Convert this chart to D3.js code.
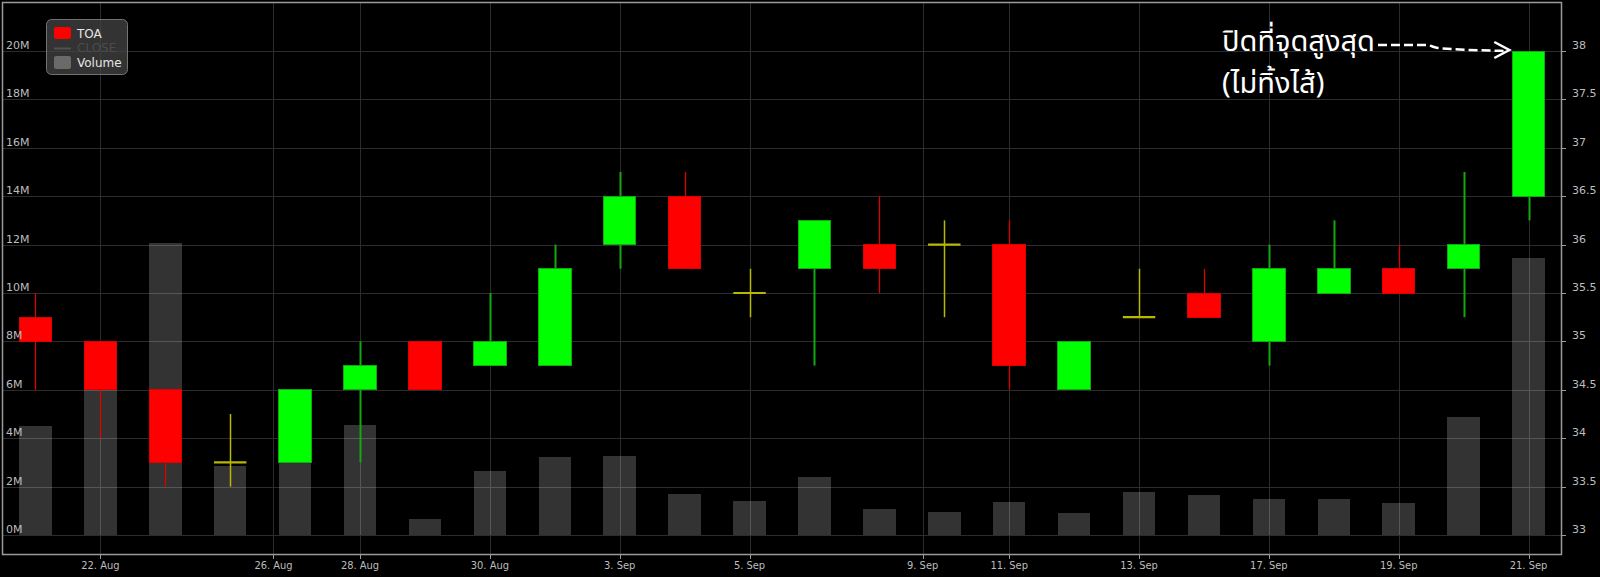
<!DOCTYPE html>
<html>
<head>
<meta charset="utf-8">
<script src="https://cdn.jsdelivr.net/npm/d3@7"></script>
<style>
  html, body { margin: 0; padding: 0; background: #000; }
  svg { display: block; }
</style>
</head>
<body>
<svg id="chart" width="1600" height="577"></svg>
<script>
// ---------------- DATA ----------------
const dates = ["2018-08-21","2018-08-22","2018-08-23","2018-08-24","2018-08-27","2018-08-28","2018-08-29","2018-08-30","2018-08-31",
               "2018-09-03","2018-09-04","2018-09-05","2018-09-06","2018-09-07","2018-09-10","2018-09-11","2018-09-12","2018-09-13",
               "2018-09-14","2018-09-17","2018-09-18","2018-09-19","2018-09-20","2018-09-21"];
const openVals  = [35.25,35.0,34.5,33.75,33.75,34.5,35.0,34.75,34.75,36.0,36.5,35.5,35.75,36.0,36.0,36.0,34.5,35.25,35.5,35.0,35.5,35.75,35.75,36.5];
const highVals  = [35.5,35.0,34.5,34.25,34.5,35.0,35.0,35.5,36.0,36.75,36.75,35.75,36.25,36.5,36.25,36.25,35.0,35.75,35.75,36.0,36.25,36.0,36.75,38.0];
const lowVals   = [34.5,34.0,33.5,33.5,33.75,33.75,34.5,34.75,34.75,35.75,35.75,35.25,34.75,35.5,35.25,34.5,34.5,35.25,35.25,34.75,35.5,35.5,35.25,36.25];
const closeVals = [35.0,34.5,33.75,33.75,34.5,34.75,34.5,35.0,35.75,36.5,35.75,35.5,36.25,35.75,36.0,34.75,35.0,35.25,35.25,35.75,35.75,35.5,36.0,38.0];
const volumeVals = [4.5e6,6.3e6,12.05e6,2.87e6,3.5e6,4.53e6,0.66e6,2.64e6,3.22e6,3.26e6,1.68e6,1.42e6,2.38e6,1.07e6,0.95e6,1.38e6,0.91e6,1.79e6,1.67e6,1.48e6,1.48e6,1.34e6,4.86e6,11.43e6];
const xTickDates = ["2018-08-22","2018-08-26","2018-08-28","2018-08-30","2018-09-03","2018-09-05","2018-09-09","2018-09-11","2018-09-13","2018-09-17","2018-09-19","2018-09-21"];
const priceTicks = [33,33.5,34,34.5,35,35.5,36,36.5,37,37.5,38];
const volumeTicks = [0,2e6,4e6,6e6,8e6,10e6,12e6,14e6,16e6,18e6,20e6];
const seriesNames = ["TOA","CLOSE","Volume"];
const annotationLines = ["ปิดที่จุดสูงสุด","(ไม่ทิ้งไส้)"];

// ---------------- LAYOUT ----------------
const W = 1600, H = 577;
const plot = {left: 3, right: 1561, top: 3, bottom: 554};
const C = {
  up: "#00ff00", upLine: "#12a812",
  down: "#ff0000", downLine: "#dd0000",
  doji: "#b8b800",
  grid: "#2c2c2c", border: "#9a9a9a", label: "#bdbdbd",
  volume: "rgba(255,255,255,0.2)"
};

const svg = d3.select("#chart");
svg.append("rect").attr("width", W).attr("height", H).attr("fill", "#000");

const parse = d3.utcParse("%Y-%m-%d");
const idx = d3.range(dates.length);
const x = d3.scaleBand().domain(idx).range([plot.left, plot.right]).paddingInner(0.5).paddingOuter(0.25);
const bw = x.bandwidth();
const xc = i => x(i) + bw / 2;
// ordinal time axis: map dates to interpolated index centers
const tScale = d3.scaleLinear().domain(dates.map(d => +parse(d))).range(idx.map(xc));

const yP = d3.scaleLinear().domain([33, 38]).range([535, 51]);
const yV = d3.scaleLinear().domain([0, 20e6]).range([535, 51]);

// grid
const grid = svg.append("g").attr("shape-rendering", "crispEdges");
grid.selectAll("line.h").data(priceTicks).join("line")
  .attr("x1", plot.left).attr("x2", plot.right)
  .attr("y1", d => Math.round(yP(d)) + 0.5).attr("y2", d => Math.round(yP(d)) + 0.5)
  .attr("stroke", C.grid).attr("stroke-width", 1);
grid.selectAll("line.v").data(xTickDates).join("line")
  .attr("y1", plot.top).attr("y2", plot.bottom)
  .attr("x1", d => Math.round(tScale(+parse(d))) + 0.5).attr("x2", d => Math.round(tScale(+parse(d))) + 0.5)
  .attr("stroke", C.grid).attr("stroke-width", 1);

// volume bars
svg.append("g").selectAll("rect").data(idx).join("rect")
  .attr("x", i => x(i)).attr("width", bw)
  .attr("y", i => yV(volumeVals[i])).attr("height", i => yV(0) - yV(volumeVals[i]))
  .attr("fill", C.volume).attr("shape-rendering", "crispEdges");

// candles
const cg = svg.append("g");
idx.forEach(i => {
  const o = openVals[i], c = closeVals[i], h = highVals[i], l = lowVals[i];
  const cx = Math.round(xc(i));
  if (o === c) {
    cg.append("line").attr("x1", cx + 0.5).attr("x2", cx + 0.5).attr("y1", yP(h)).attr("y2", yP(l))
      .attr("stroke", C.doji).attr("stroke-width", 1.5);
    cg.append("line").attr("x1", x(i)).attr("x2", x(i) + bw).attr("y1", yP(o)).attr("y2", yP(o))
      .attr("stroke", C.doji).attr("stroke-width", 2.2);
    return;
  }
  const up = c > o;
  const line = up ? C.upLine : C.downLine;
  cg.append("line").attr("x1", cx + 0.5).attr("x2", cx + 0.5).attr("y1", yP(h)).attr("y2", yP(l))
    .attr("stroke", line).attr("stroke-width", up ? 2 : 1.3);
  cg.append("rect").attr("x", x(i)).attr("width", bw)
    .attr("y", yP(Math.max(o, c))).attr("height", Math.abs(yP(o) - yP(c)))
    .attr("fill", up ? C.up : C.down).attr("stroke", line).attr("stroke-width", 1)
    .attr("shape-rendering", "crispEdges");
});

// plot border
svg.append("rect").attr("x", plot.left - 0.5).attr("y", plot.top - 0.5)
  .attr("width", plot.right - plot.left + 1).attr("height", plot.bottom - plot.top + 1)
  .attr("fill", "none").attr("stroke", C.border).attr("stroke-width", 1.5);

// left volume labels (inside)
svg.append("g").selectAll("text").data(volumeTicks).join("text")
  .attr("x", plot.left + 3).attr("y", d => yV(d) - 2)
  .attr("fill", C.label).attr("font-family", "'DejaVu Sans', sans-serif").attr("font-size", 11)
  .text(d => (d / 1e6) + "M");

// right price axis
const ra = svg.append("g");
ra.selectAll("line").data(priceTicks).join("line")
  .attr("x1", plot.right).attr("x2", plot.right + 5)
  .attr("y1", d => Math.round(yP(d)) + 0.5).attr("y2", d => Math.round(yP(d)) + 0.5)
  .attr("stroke", C.border).attr("stroke-width", 1);
ra.selectAll("text").data(priceTicks).join("text")
  .attr("x", plot.right + 11).attr("y", d => yP(d) - 2)
  .attr("fill", C.label).attr("font-family", "'DejaVu Sans', sans-serif").attr("font-size", 11)
  .text(d => d3.format("~g")(d));

// bottom date axis
const ba = svg.append("g");
ba.selectAll("line").data(xTickDates).join("line")
  .attr("x1", d => Math.round(tScale(+parse(d))) + 0.5).attr("x2", d => Math.round(tScale(+parse(d))) + 0.5)
  .attr("y1", plot.bottom).attr("y2", plot.bottom + 5)
  .attr("stroke", C.border).attr("stroke-width", 1);
const fmt = d3.utcFormat("%-d. %b");
ba.selectAll("text").data(xTickDates).join("text")
  .attr("x", d => tScale(+parse(d))).attr("y", plot.bottom + 15)
  .attr("text-anchor", "middle")
  .attr("fill", C.label).attr("font-family", "'DejaVu Sans Condensed', 'Liberation Sans Narrow', sans-serif")
  .attr("font-stretch", "condensed").attr("font-size", 11)
  .text(d => fmt(parse(d)));

// legend
const lg = svg.append("g").attr("font-family", "'DejaVu Sans', sans-serif").attr("font-size", 12);
lg.append("rect").attr("x", 46.5).attr("y", 19.5).attr("width", 81).attr("height", 55).attr("rx", 5)
  .attr("fill", "rgba(70,70,70,0.72)").attr("stroke", "#727272").attr("stroke-width", 1);
lg.append("rect").attr("x", 54).attr("y", 27).attr("width", 17).attr("height", 12).attr("rx", 2).attr("fill", C.down);
lg.append("text").attr("x", 77).attr("y", 37.5).attr("fill", "#e6e6e6").text(seriesNames[0]);
lg.append("line").attr("x1", 54).attr("x2", 71).attr("y1", 48.5).attr("y2", 48.5).attr("stroke", "#505050").attr("stroke-width", 2);
lg.append("text").attr("x", 77).attr("y", 52).attr("fill", "#4c4c4c").text(seriesNames[1]);
lg.append("rect").attr("x", 54).attr("y", 56).attr("width", 17).attr("height", 13).attr("rx", 2).attr("fill", "#6a6a6a");
lg.append("text").attr("x", 77).attr("y", 67).attr("fill", "#e6e6e6").text(seriesNames[2]);

// annotation
const last = dates.length - 1;
const tipX = x(last) - 3, tipY = yP(closeVals[last]);
const ag = svg.append("g");
const afont = "'Noto Sans Thai','Noto Sans','DejaVu Sans',sans-serif";
const t1 = ag.append("text").attr("x", 1222).attr("y", 51).attr("fill", "#fff")
  .attr("font-family", afont).attr("font-size", 29)
  .text(annotationLines[0]);
ag.append("text").attr("x", 1222).attr("y", 93).attr("fill", "#fff")
  .attr("font-family", afont).attr("font-size", 29)
  .text(annotationLines[1]);
const x0 = 1222 + t1.node().getComputedTextLength() + 3;
const y0 = tipY - 6;
const pts = [[x0, y0], [x0 + 48, y0], [x0 + 60, y0 + 3], [tipX - 2, tipY]];
ag.append("path").attr("d", d3.line().curve(d3.curveMonotoneX)(pts))
  .attr("fill", "none").attr("stroke", "#fff").attr("stroke-width", 2.5).attr("stroke-dasharray", "9,4");
ag.append("path").attr("d", d3.line()([[tipX - 15, tipY - 9], [tipX, tipY - 1], [tipX - 15, tipY + 7]]))
  .attr("fill", "none").attr("stroke", "#fff").attr("stroke-width", 2.5).attr("stroke-linejoin", "miter");
</script>
</body>
</html>
